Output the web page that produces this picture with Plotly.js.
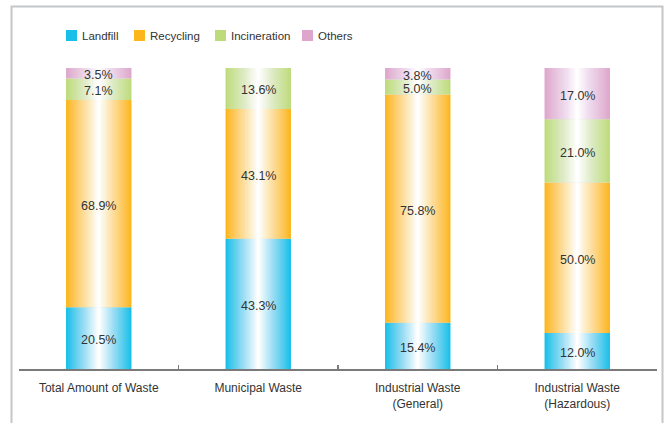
<!DOCTYPE html>
<html>
<head>
<meta charset="utf-8">
<script src="https://cdn.plot.ly/plotly-3.0.1.min.js"></script>
<style>
  html, body { margin: 0; padding: 0; background: #ffffff; }
  #chart { width: 665px; height: 423px; }
</style>
</head>
<body>
<div id="chart"></div>
<script>
// ---- data ----
var categories = ['Total Amount of Waste', 'Municipal Waste', 'Industrial Waste<br>(General)', 'Industrial Waste<br>(Hazardous)'];
var seriesNames = ['Landfill', 'Recycling', 'Incineration', 'Others'];
var landfill = [20.5, 43.3, 15.4, 12.0];
var recycling = [68.9, 43.1, 75.8, 50.0];
var incineration = [7.1, 13.6, 5.0, 21.0];
var others = [3.5, 0, 3.8, 17.0];

// ---- styles ----
var seriesValues = [landfill, recycling, incineration, others];
var colors = ['#17bfe9', '#fdb51c', '#bddb7a', '#dea6cc'];
var BAR_W = 0.41;
var LAYERS = 26;
var FONT = 'Liberation Sans, Arial, sans-serif';

var traces = [];
var bases = [];
var running = categories.map(function () { return 0; });
seriesValues.forEach(function (vals, s) {
  var b = running.slice();
  bases.push(b);
  traces.push({
    type: 'bar', x: categories, y: vals, base: b, width: BAR_W,
    marker: { color: colors[s], line: { width: 0 } },
    name: seriesNames[s], showlegend: false, hoverinfo: 'skip'
  });
  running = running.map(function (r, i) { return r + vals[i]; });
});

// gradient: white overlays narrowing towards the centre
seriesValues.forEach(function (vals, s) {
  var prevT = 1;
  for (var j = 1; j <= LAYERS; j++) {
    var t = j / LAYERS;
    var T = 1 - Math.pow(t, 0.9);
    var alpha = prevT > 0 ? 1 - T / prevT : 1;
    prevT = T;
    var frac = (LAYERS + 1 - j) / (LAYERS + 1);
    traces.push({
      type: 'bar', x: categories, y: vals, base: bases[s], width: BAR_W * frac,
      marker: { color: 'rgba(255,255,255,' + Math.min(1, Math.max(0, alpha)).toFixed(4) + ')', line: { width: 0 } },
      showlegend: false, hoverinfo: 'skip'
    });
  }
});

var plotL = 19, plotR = 657, plotT = 68, plotB = 369;
function px2x(px) { return (px - plotL) / (plotR - plotL); }
function py2y(py) { return (plotB - py) / (plotB - plotT); }
var shapes = [];
var annotations = [];

// value labels (placed through the axes at each segment's middle)
seriesValues.forEach(function (vals, s) {
  vals.forEach(function (v, i) {
    if (v <= 0) return;
    annotations.push({
      xref: 'x', yref: 'y', x: categories[i], y: bases[s][i] + v / 2,
      xanchor: 'center', yanchor: 'middle', yshift: -2, showarrow: false,
      borderpad: 0,
      text: v.toFixed(1) + '%', font: { family: FONT, size: 12.5, color: '#333333' }
    });
  });
});

// custom legend (swatch + text)
var legendX = [66, 134, 215, 302];
seriesNames.forEach(function (n, s) {
  shapes.push({
    type: 'rect', xref: 'paper', yref: 'paper',
    x0: px2x(legendX[s]), x1: px2x(legendX[s] + 11),
    y0: py2y(41), y1: py2y(30),
    fillcolor: colors[s], line: { width: 0 }
  });
  annotations.push({
    xref: 'paper', yref: 'paper', x: px2x(legendX[s] + 14), y: py2y(36),
    xanchor: 'left', yanchor: 'middle', showarrow: false,
    text: n, font: { family: FONT, size: 11.5, color: '#333333' }
  });
});
// frame
shapes.push({
  type: 'path', xref: 'paper', yref: 'paper',
  path: 'M ' + px2x(11.5) + ' ' + py2y(430) + ' L ' + px2x(11.5) + ' ' + py2y(6.5) +
        ' L ' + px2x(662.5) + ' ' + py2y(6.5) + ' L ' + px2x(662.5) + ' ' + py2y(430),
  line: { color: '#c4c6c8', width: 2 }, layer: 'below'
});

var layout = {
  width: 665, height: 423, autosize: false,
  margin: { l: plotL, r: 665 - plotR, t: plotT, b: 423 - plotB, pad: 0 },
  paper_bgcolor: '#ffffff', plot_bgcolor: '#ffffff',
  barmode: 'overlay', showlegend: false,
  xaxis: {
    type: 'category', range: [-0.5, 3.5], showgrid: false, zeroline: false,
    showline: true, linecolor: '#7a7a7a', linewidth: 1.5,
    ticks: 'inside', tickson: 'boundaries', ticklen: 4, tickcolor: '#7a7a7a', tickwidth: 1.5,
    tickfont: { family: FONT, size: 12, color: '#333333' }, ticklabelstandoff: 7,
    fixedrange: true
  },
  yaxis: { range: [0, 100], visible: false, fixedrange: true },
  shapes: shapes, annotations: annotations,
  font: { family: FONT }
};

Plotly.newPlot('chart', traces, layout, { displayModeBar: false, staticPlot: true });
</script>
</body>
</html>
